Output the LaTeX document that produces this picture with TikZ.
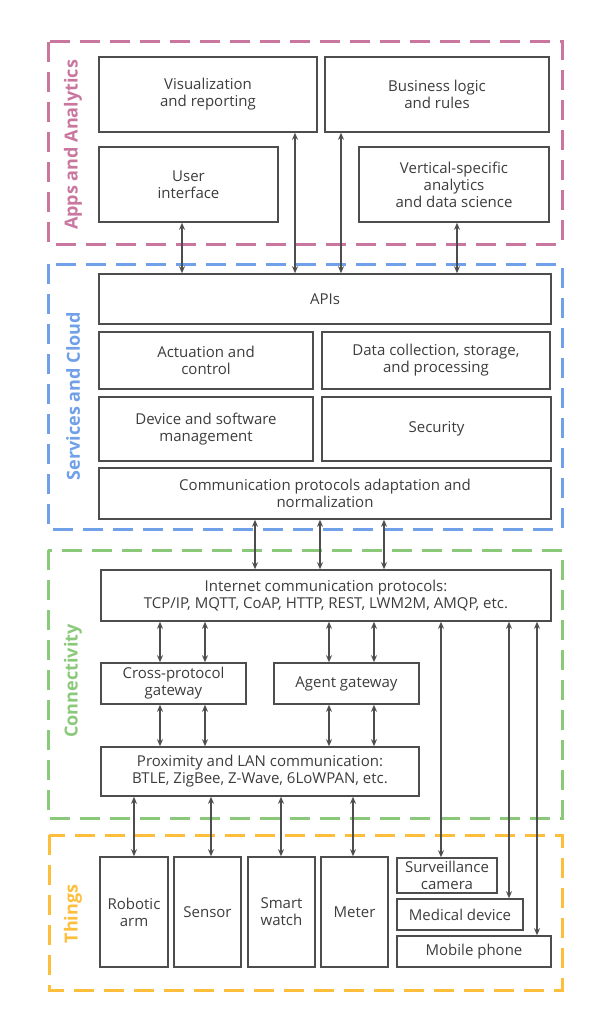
\documentclass[tikz,border=0pt]{standalone}
\usepackage{fontspec}
\setmainfont{Open Sans}
\usetikzlibrary{arrows.meta}
\definecolor{boxline}{HTML}{4D4D4D}
\definecolor{txt}{HTML}{3D3D3D}
\definecolor{appsc}{HTML}{C9779F}
\definecolor{servc}{HTML}{6FA0E8}
\definecolor{connc}{HTML}{8BC97A}
\definecolor{thingc}{HTML}{FDBF3B}
\tikzset{
  blk/.style={draw=boxline, line width=1.6pt, fill=white, text=txt, align=center,
    inner sep=0pt, font=\fontsize{15}{17}\selectfont},
  region/.style={line width=3pt, dash pattern=on 20pt off 10pt},
  reglabel/.style={rotate=90, font=\bfseries\fontsize{18}{20}\selectfont},
  darr/.style={draw=boxline, line width=1.5pt, {Stealth[length=7pt,width=6pt]}-{Stealth[length=7pt,width=6pt]}}
}
\newcommand{\bx}[7]{\node[blk, minimum width=#4pt, minimum height=#5pt] (#1) at (#2,#3) {#6};}
\begin{document}
\begin{tikzpicture}[x=1pt,y=-1pt]
\useasboundingbox (0,0) rectangle (597,1024);
\fill[white] (0,0) rectangle (597,1024);
% regions
\draw[region, appsc] (48,42) rectangle (562,244);
\draw[region, servc] (48,264) rectangle (562,529);
\draw[region, connc] (48,550) rectangle (562,818);
\draw[region, thingc] (49,835) rectangle (562,990);
\node[reglabel, text=appsc] (lapps) at (73,145) {Apps and Analytics};
\node[reglabel, text=servc] (lserv) at (73,396) {Services and Cloud};
\node[reglabel, text=connc] (lconn) at (73,681) {Connectivity};
\node[reglabel, text=thingc] (lthing) at (73,914) {Things};
% apps
\bx{vis}{208}{94.5}{218}{75}{Visualization\\and reporting}{}
\bx{biz}{437}{94.5}{224}{75}{Business logic\\and rules}{}
\bx{ui}{188.5}{184.5}{179}{75}{User\\interface}{}
\bx{vert}{454}{184.5}{190}{75}{Vertical-specific\\analytics\\and data science}{}
% services
\bx{apis}{325}{299}{452}{50}{APIs}{}
\bx{act}{206}{360.5}{214}{57}{Actuation and\\control}{}
\bx{data}{436}{360.5}{228}{57}{Data collection, storage,\\and processing}{}
\bx{dev}{206}{429}{214}{64}{Device and software\\management}{}
\bx{sec}{436.5}{429}{229}{64}{Security}{}
\bx{comm}{325}{493.5}{452}{51}{Communication protocols adaptation and\\normalization}{}
% connectivity
\bx{inet}{326}{595.5}{450}{51}{Internet communication protocols:\\TCP/IP, MQTT, CoAP, HTTP, REST, LWM2M, AMQP, etc.}{}
\bx{cross}{173.5}{683.5}{145}{41}{Cross-protocol\\gateway}{}
\bx{agent}{346.5}{683.5}{145}{41}{Agent gateway}{}
\bx{prox}{260}{771.5}{318}{49}{Proximity and LAN communication:\\BTLE, ZigBee, Z-Wave, 6LoWPAN, etc.}{}
% things
\bx{robot}{134}{912}{68}{110}{Robotic\\arm}{}
\bx{sensor}{207.5}{912}{67}{110}{Sensor}{}
\bx{smart}{281.5}{912}{67}{110}{Smart\\watch}{}
\bx{meter}{354.5}{912}{67}{110}{Meter}{}
\bx{surv}{447}{875.5}{100}{35}{Surveillance\\camera}{}
\bx{med}{460}{914.5}{126}{31}{Medical device}{}
\bx{mob}{474}{951.5}{154}{31}{Mobile phone}{}
% connectors apps <-> APIs
\draw[darr] (182,0 |- ui.south) -- (182,0 |- apis.north);
\draw[darr] (295,0 |- vis.south) -- (295,0 |- apis.north);
\draw[darr] (341,0 |- biz.south) -- (341,0 |- apis.north);
\draw[darr] (457,0 |- vert.south) -- (457,0 |- apis.north);
% comm <-> internet
\draw[darr] (255,0 |- comm.south) -- (255,0 |- inet.north);
\draw[darr] (320,0 |- comm.south) -- (320,0 |- inet.north);
\draw[darr] (384,0 |- comm.south) -- (384,0 |- inet.north);
% internet <-> gateways
\draw[darr] (160,0 |- inet.south) -- (160,0 |- cross.north);
\draw[darr] (205,0 |- inet.south) -- (205,0 |- cross.north);
\draw[darr] (329,0 |- inet.south) -- (329,0 |- agent.north);
\draw[darr] (374,0 |- inet.south) -- (374,0 |- agent.north);
\draw[darr] (160,0 |- cross.south) -- (160,0 |- prox.north);
\draw[darr] (205,0 |- cross.south) -- (205,0 |- prox.north);
\draw[darr] (329,0 |- agent.south) -- (329,0 |- prox.north);
\draw[darr] (374,0 |- agent.south) -- (374,0 |- prox.north);
% prox <-> things
\draw[darr] (134,0 |- prox.south) -- (134,0 |- robot.north);
\draw[darr] (211,0 |- prox.south) -- (211,0 |- sensor.north);
\draw[darr] (281,0 |- prox.south) -- (281,0 |- smart.north);
\draw[darr] (353,0 |- prox.south) -- (353,0 |- meter.north);
% internet <-> things
\draw[darr] (441,0 |- inet.south) -- (441,0 |- surv.north);
\draw[darr] (509,0 |- inet.south) -- (509,0 |- med.north);
\draw[darr] (537,0 |- inet.south) -- (537,0 |- mob.north);
\end{tikzpicture}
\end{document}
